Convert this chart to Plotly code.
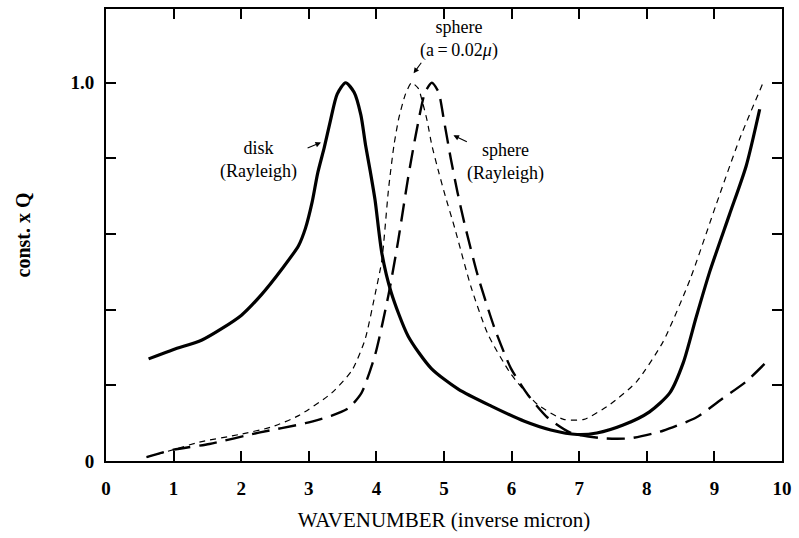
import plotly.graph_objects as go

# ---- data ----
disk_x = [0.63, 1.0, 1.42, 2.0, 2.3, 2.6, 2.85, 2.95, 3.05, 3.13, 3.23, 3.32, 3.42, 3.545,
          3.67, 3.77, 3.84, 3.91, 3.98, 4.08, 4.22, 4.47, 4.81, 5.21, 5.70, 6.19,
          6.58, 6.97, 7.26, 7.65, 8.04, 8.34, 8.54, 8.73, 8.93, 9.22, 9.47, 9.67]
disk_y = [0.27, 0.295, 0.32, 0.385, 0.44, 0.507, 0.57, 0.615, 0.685, 0.76, 0.83, 0.90, 0.97, 1.0,
          0.975, 0.915, 0.835, 0.765, 0.69, 0.55, 0.445, 0.33, 0.245, 0.19, 0.145, 0.105,
          0.082, 0.07, 0.074, 0.095, 0.13, 0.18, 0.26, 0.38, 0.50, 0.65, 0.78, 0.93]

sph002_x = [0.6, 1.0, 1.38, 1.97, 2.45, 2.85, 3.34, 3.64, 3.83, 3.98, 4.08, 4.18, 4.26,
            4.33, 4.43, 4.52, 4.62, 4.68, 4.75, 4.82, 4.92, 5.02, 5.16, 5.40, 5.65,
            5.99, 6.38, 6.77, 7.07, 7.46, 7.85, 8.24, 8.64, 9.03, 9.37, 9.72]
sph002_y = [0.01, 0.03, 0.05, 0.07, 0.09, 0.12, 0.18, 0.24, 0.32, 0.44, 0.53, 0.72, 0.835,
            0.905, 0.97, 1.0, 0.985, 0.95, 0.9, 0.835, 0.765, 0.70, 0.615, 0.46, 0.335,
            0.23, 0.15, 0.11, 0.11, 0.15, 0.21, 0.315, 0.48, 0.68, 0.85, 1.0]

sphR_x = [0.6, 1.0, 1.53, 2.26, 2.95, 3.34, 3.59, 3.78, 3.98, 4.18, 4.32, 4.47, 4.58,
          4.72, 4.82, 4.92, 5.0, 5.1, 5.2, 5.3, 5.5, 5.75, 5.99, 6.24, 6.53, 6.87,
          7.36, 7.75, 8.24, 8.73, 9.12, 9.47, 9.76]
sphR_y = [0.01, 0.03, 0.045, 0.075, 0.10, 0.12, 0.14, 0.18, 0.28, 0.44, 0.58, 0.75, 0.86,
          0.975, 1.0, 0.975, 0.9, 0.8, 0.71, 0.63, 0.49, 0.35, 0.245, 0.175, 0.115, 0.075,
          0.06, 0.06, 0.08, 0.115, 0.165, 0.21, 0.26]

x_ticks = list(range(0, 11))
y_ticks = [0, 0.2, 0.4, 0.6, 0.8, 1.0]
y_tick_text = ["0", "", "", "", "", "1.0"]

SERIF = "Liberation Serif, Times New Roman, serif"

fig = go.Figure()
fig.add_trace(go.Scatter(x=disk_x, y=disk_y, mode="lines",
                         line=dict(color="black", width=3.2, shape="spline", smoothing=0.7)))
fig.add_trace(go.Scatter(x=sph002_x, y=sph002_y, mode="lines",
                         line=dict(color="black", width=1.2, dash="6px,5px",
                                   shape="spline", smoothing=0.6)))
fig.add_trace(go.Scatter(x=sphR_x, y=sphR_y, mode="lines",
                         line=dict(color="black", width=2.4, dash="18px,9px",
                                   shape="spline", smoothing=0.6)))

ann_font = dict(family=SERIF, size=18, color="black")
texts = [
    ("disk<br>(Rayleigh)", 2.26, 0.795),
    ("sphere<br>(a\u2009=\u20090.02<i>\u03bc</i>)", 5.22, 1.115),
    ("sphere<br>(Rayleigh)", 5.91, 0.79),
]
annotations = [dict(text=t, x=x, y=y, xref="x", yref="y", showarrow=False,
                    font=ann_font, xanchor="center", yanchor="middle", align="center")
               for t, x, y in texts]

arrows = [
    (3.18, 0.842, 2.96, 0.826),
    (4.55, 1.025, 4.68, 1.057),
    (5.14, 0.861, 5.36, 0.842),
]
for hx, hy, tx, ty in arrows:
    annotations.append(dict(text="", x=hx, y=hy, ax=tx, ay=ty, xref="x", yref="y",
                            axref="x", ayref="y", showarrow=True, arrowhead=2,
                            arrowsize=1.0, arrowwidth=1.1, arrowcolor="black",
                            standoff=0, startstandoff=0))

fig.update_layout(
    width=799, height=538,
    margin=dict(l=106, r=14, t=7, b=77),
    paper_bgcolor="white", plot_bgcolor="white",
    showlegend=False,
    annotations=annotations,
    xaxis=dict(range=[0, 10], tickvals=x_ticks, ticktext=[str(v) for v in x_ticks],
               ticks="inside", ticklen=10, tickwidth=1.5, tickcolor="black",
               showline=True, linecolor="black", linewidth=2, mirror="ticks",
               showgrid=False, zeroline=False,
               tickfont=dict(family=SERIF, size=19, color="black", weight="bold"),
               ticklabelstandoff=9,
               title=dict(text="WAVENUMBER (inverse micron)", standoff=15,
                          font=dict(family=SERIF, size=21, color="black"))),
    yaxis=dict(range=[0, 1.195], tickvals=y_ticks, ticktext=y_tick_text,
               ticks="inside", ticklen=10, tickwidth=1.5, tickcolor="black",
               showline=True, linecolor="black", linewidth=2, mirror="ticks",
               showgrid=False, zeroline=False,
               tickfont=dict(family=SERIF, size=19, color="black", weight="bold"),
               ticklabelstandoff=6,
               title=dict(text="const. x Q", standoff=34,
                          font=dict(family=SERIF, size=20, color="black", weight="bold"))),
)

fig.write_html("out.html")
